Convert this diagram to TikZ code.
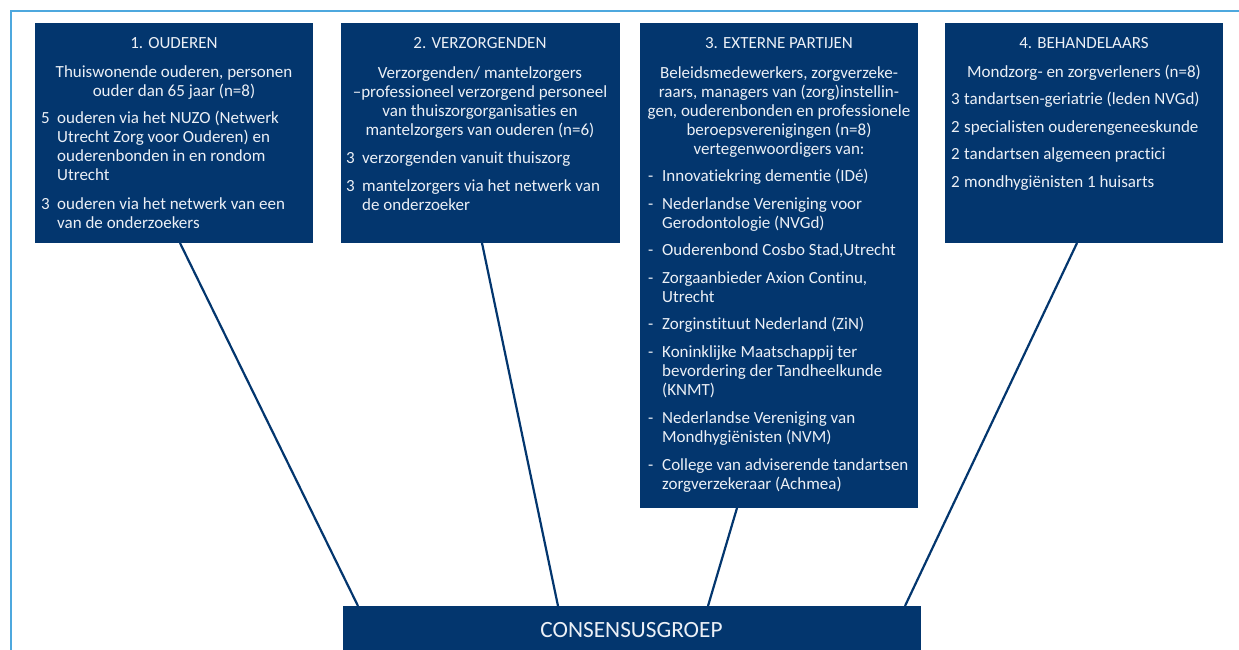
\documentclass[tikz,border=0pt]{standalone}
\usepackage{fontspec}
\setmainfont{Carlito}[Ligatures={NoCommon}]
\usepackage{array}
\definecolor{navy}{RGB}{3,54,110}
\definecolor{frameblue}{RGB}{78,168,222}
\definecolor{txtc}{RGB}{236,240,246}
\tikzset{
  box/.style={fill=navy, draw=none, anchor=north west, inner sep=0pt},
  txt/.style={text=txtc, inner sep=0pt, font=\fontsize{17}{19}\selectfont},
  conn/.style={draw=navy, line width=2.2pt},
}
\newcommand{\ctab}[1]{\begin{tabular}[t]{@{}c@{}}#1\end{tabular}}
\newcommand{\itab}[2]{\begin{tabular}[t]{@{}p{#1}@{}l@{}}#2\end{tabular}}
\begin{document}
\begin{tikzpicture}[x=1pt,y=-1pt]
\useasboundingbox (0,0) rectangle (1239,650);
% frame
\draw[frameblue, line width=1.4pt] (11,650) -- (11,11) -- (1239,11);
% boxes
\node[box, minimum width=278pt, minimum height=220pt] (b1) at (35,23) {};
\node[box, minimum width=279pt, minimum height=220pt] (b2) at (341,23) {};
\node[box, minimum width=278pt, minimum height=485pt] (b3) at (640,23) {};
\node[box, minimum width=278pt, minimum height=220pt] (b4) at (945,23) {};
\node[box, minimum width=578pt, minimum height=44pt] (cg) at (343,606) {};
% box 1
\node[txt, anchor=base] (t1) at (174,49) {1. OUDEREN};
\node[txt, anchor=base] (p1) at (174,78) {\ctab{Thuiswonende ouderen, personen\\ ouder dan 65 jaar (n=8)}};
\node[txt, anchor=base west] (i11) at (41,124) {\itab{16pt}{5 & ouderen via het NUZO (Netwerk\\ & Utrecht Zorg voor Ouderen) en\\ & ouderenbonden in en rondom\\ & Utrecht}};
\node[txt, anchor=base west] (i12) at (41,209) {\itab{16pt}{3 & ouderen via het netwerk van een\\ & van de onderzoekers}};
% box 2
\node[txt, anchor=base] (t2) at (480,49) {2. VERZORGENDEN};
\node[txt, anchor=base] (p2) at (480,79) {\ctab{Verzorgenden/ mantelzorgers\\ –professioneel verzorgend personeel\\ van thuiszorgorganisaties en\\ mantelzorgers van ouderen (n=6)}};
\node[txt, anchor=base west] (i21) at (346,163) {\itab{16pt}{3 & verzorgenden vanuit thuiszorg}};
\node[txt, anchor=base west] (i22) at (346,191) {\itab{16pt}{3 & mantelzorgers via het netwerk van\\ & de onderzoeker}};
% box 3
\node[txt, anchor=base] (t3) at (779,49) {3. EXTERNE PARTIJEN};
\node[txt, anchor=base] (p3) at (779,79) {\ctab{Beleidsmedewerkers, zorgverzeke-\\ raars, managers van (zorg)instellin-\\ gen, ouderenbonden en professionele\\ beroepsverenigingen (n=8)\\ vertegenwoordigers van:}};
\node[txt, anchor=base west] (i31) at (648,181) {\itab{14pt}{- & Innovatiekring dementie (IDé)}};
\node[txt, anchor=base west] (i32) at (648,209) {\itab{14pt}{- & Nederlandse Vereniging voor\\ & Gerodontologie (NVGd)}};
\node[txt, anchor=base west] (i33) at (648,255) {\itab{14pt}{- & Ouderenbond Cosbo Stad,Utrecht}};
\node[txt, anchor=base west] (i34) at (648,283) {\itab{14pt}{- & Zorgaanbieder Axion Continu,\\ & Utrecht}};
\node[txt, anchor=base west] (i35) at (648,329) {\itab{14pt}{- & Zorginstituut Nederland (ZiN)}};
\node[txt, anchor=base west] (i36) at (648,357) {\itab{14pt}{- & Koninklijke Maatschappij ter\\ & bevordering der Tandheelkunde\\ & (KNMT)}};
\node[txt, anchor=base west] (i37) at (648,423) {\itab{14pt}{- & Nederlandse Vereniging van\\ & Mondhygiënisten (NVM)}};
\node[txt, anchor=base west] (i38) at (648,470) {\itab{14pt}{- & College van adviserende tandartsen\\ & zorgverzekeraar (Achmea)}};
% box 4
\node[txt, anchor=base] (t4) at (1084,49) {4. BEHANDELAARS};
\node[txt, anchor=base] (p4) at (1084,78) {Mondzorg- en zorgverleners (n=8)};
\node[txt, anchor=base west] (i41) at (951,105) {\itab{13pt}{3 & tandartsen-geriatrie (leden NVGd)}};
\node[txt, anchor=base west] (i42) at (951,132) {\itab{13pt}{2 & specialisten ouderengeneeskunde}};
\node[txt, anchor=base west] (i43) at (951,159) {\itab{13pt}{2 & tandartsen algemeen practici}};
\node[txt, anchor=base west] (i44) at (951,187) {\itab{13pt}{2 & mondhygiënisten 1 huisarts}};
% consensus
\node[txt, anchor=base, font=\fontsize{23.3}{26}\selectfont] (cgt) at (631.5,637) {CONSENSUSGROEP};
% connectors
\coordinate (a1) at (180,243);
\coordinate (a2) at (482,243);
\coordinate (a3) at (737,508);
\coordinate (a4) at (1077,243);
\coordinate (e1) at (358,606);
\coordinate (e2) at (558,606);
\coordinate (e3) at (708,606);
\coordinate (e4) at (905,606);
\draw[conn] (a1) -- (e1);
\draw[conn] (a2) -- (e2);
\draw[conn] (a3) -- (e3);
\draw[conn] (a4) -- (e4);
\end{tikzpicture}
\end{document}
